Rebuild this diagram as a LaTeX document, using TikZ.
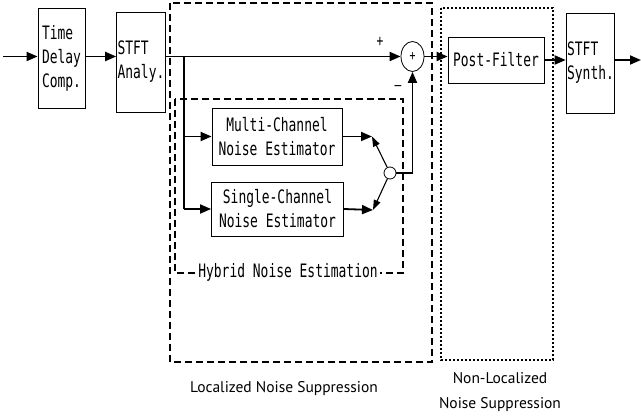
\documentclass[tikz,border=0pt]{standalone}
\usepackage{fontspec}
\setmainfont{PT Sans}
\newfontfamily\gothic[FakeStretch=0.70]{DejaVu Sans Mono}
\usetikzlibrary{arrows.meta,positioning,shapes.geometric}

\tikzset{
  blk/.style={draw, line width=0.8pt, align=left, inner sep=1pt,
    font=\gothic\fontsize{18.5}{24}\selectfont},
  sig/.style={line width=1.8pt, -{Triangle[length=11pt,width=9pt]}},
  thin sig/.style={line width=1.1pt, -{Triangle[length=10pt,width=7pt]}},
  locbox/.style={line width=1.1pt, dash pattern=on 7pt off 4pt},
  nlbox/.style={line width=1.1pt, dash pattern=on 2pt off 2pt},
  sgn/.style={font=\gothic\fontsize{16}{16}\selectfont, inner sep=0pt},
}

\begin{document}
\begin{tikzpicture}[x=1pt, y=-1pt]
  \useasboundingbox (0,0) rectangle (641,419);

  % suppression regions
  \draw[locbox] (170,3) rectangle (432,362);
  \draw[nlbox] (441,8) rectangle (553,360);
  \draw[locbox] (175,99) rectangle (403,273);
  \node[fill=white, inner sep=2pt, font=\gothic\fontsize{18.5}{24}\selectfont]
    (hyb) at (288,272) {Hybrid Noise Estimation};

  % blocks
  \node[blk, minimum width=47, minimum height=100] (tdc) at (61.5,58) {Time\\Delay\\Comp.};
  \node[blk, minimum width=48, minimum height=100] (ana) at (141,62) {STFT\\Analy.};
  \node[blk, minimum width=130, minimum height=57, align=center] (mce) at (277,136.5) {Multi-Channel\\Noise Estimator};
  \node[blk, minimum width=132, minimum height=54, align=center] (sce) at (277.5,209) {Single-Channel\\Noise Estimator};
  \node[blk, minimum width=96, minimum height=46] (pf) at (496,60) {Post-Filter};
  \node[blk, minimum width=47, minimum height=100] (syn) at (590.5,63) {STFT\\Synth.};
  \node[draw, ellipse, line width=0.8pt, minimum width=23, minimum height=30, inner sep=0pt,
    font=\gothic\fontsize{14}{14}\selectfont] (sum) at (412.5,56.5) {+};
  \node[draw, circle, line width=0.8pt, minimum size=12, inner sep=0pt] (sw) at (390,173) {};

  \coordinate (in) at (3,56.5);
  \coordinate (out) at (641,60);
  \coordinate (br) at (184,56.5);
  \coordinate (p1) at (372,136.5);
  \coordinate (p2) at (373,210);

  % signal path
  \draw[sig] (in) -- (in -| tdc.west);
  \draw[sig] (tdc.east |- in) -- (ana.west |- in);
  \draw[sig] (ana.east |- in) -- (sum.west);
  \draw[line width=1.8pt] (br) -- (br |- sce.west);
  \draw[sig] (br |- mce.west) -- (mce.west);
  \draw[sig] (br |- sce.west) -- (sce.west);
  \draw[sig] (mce.east) -- (p1);
  \draw[sig] (sce.east) -- (p2);
  \draw[thin sig] (sw) -- (p1);
  \draw[thin sig] (sw) -- (p2);
  \draw[sig] (sw.east) -| (sum.south);
  \draw[sig] (sum.east) -- (pf.west |- sum.east);
  \draw[sig] (pf.east) -- (syn.west |- pf.east);
  \draw[sig] (syn.east |- pf.east) -- (out);

  \node[sgn] (plus) at (380,42) {+};
  \node[sgn] (minus) at (398,88) {–};

  % region names
  \node[font=\fontsize{15.5}{15.5}\selectfont] (loc) at (284,389) {Localized Noise Suppression};
  \node[align=center, font=\fontsize{15.5}{25}\selectfont] (nonloc) at (500,392) {Non-Localized\\Noise Suppression};
\end{tikzpicture}
\end{document}
